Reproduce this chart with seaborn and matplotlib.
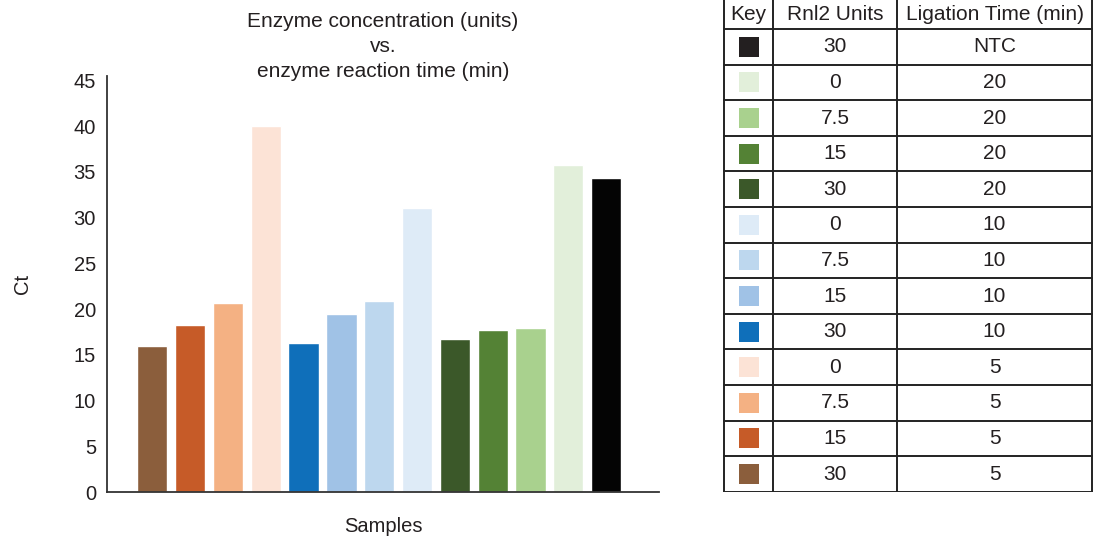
import numpy as np
import pandas as pd
import matplotlib
matplotlib.use("Agg")
import matplotlib.pyplot as plt
import seaborn as sns
from matplotlib.patches import Rectangle

# bars, left to right
samples = ["30U 5min", "15U 5min", "7.5U 5min", "0U 5min",
           "30U 10min", "15U 10min", "7.5U 10min", "0U 10min",
           "30U 20min", "15U 20min", "7.5U 20min", "0U 20min",
           "NTC"]
ct_values = [16.0, 18.3, 20.7, 40.0,
             16.3, 19.5, 20.9, 31.1,
             16.7, 17.7, 17.9, 35.8,
             34.3]
bar_colors = ["#8B5E3C", "#C65B28", "#F4B183", "#FCE3D6",
              "#0F6FBA", "#A0C2E6", "#BDD7EE", "#DEEBF7",
              "#3B5829", "#548235", "#A9D18E", "#E2EFDA",
              "#040404"]

# table (key), top to bottom
units_col = ["30", "0", "7.5", "15", "30", "0", "7.5", "15", "30", "0", "7.5", "15", "30"]
time_col = ["NTC", "20", "20", "20", "20", "10", "10", "10", "10", "5", "5", "5", "5"]
key_colors = ["#231F20"] + bar_colors[:-1][::-1]
headers = ["Key", "Rnl2 Units", "Ligation Time (min)"]

sns.set_style("white")
plt.rcParams['font.family'] = ['Liberation Sans', 'DejaVu Sans']
TXT = "#231F20"

df = pd.DataFrame({"sample": samples, "ct": ct_values})

fig = plt.figure(figsize=(10.95, 5.4), dpi=100)
ax = fig.add_axes([107 / 1095, 48 / 540, 552 / 1095, 416 / 540])
sns.barplot(data=df, x="sample", y="ct", hue="sample", palette=bar_colors,
            width=0.8, legend=False, saturation=1, ax=ax)
ax.set_xlim(-1.2, 13.4)
ax.set_ylim(0, 45.5)
ax.set_yticks(np.arange(0, 46, 5))
ax.set_xticks([])
ax.tick_params(axis="y", length=0, pad=8, labelsize=14.5, labelcolor=TXT)
for s in ["top", "right"]:
    ax.spines[s].set_visible(False)
for s in ["left", "bottom"]:
    ax.spines[s].set_color("#333333")
    ax.spines[s].set_linewidth(1.3)
ax.set_ylabel("Ct", fontsize=14.5, color=TXT)
ax.yaxis.set_label_coords(-0.135, 0.5)
ax.set_xlabel("Samples", fontsize=14.5, color=TXT)
ax.xaxis.set_label_coords(0.5, -0.06)
ax.set_title("Enzyme concentration (units)\nvs.\nenzyme reaction time (min)",
             fontsize=15, color=TXT, pad=-1, linespacing=1.4)

# key table
tx = fig.add_axes([723 / 1095, 48 / 540, 370 / 1095, 492 / 540])
tx.set_xlim(0, 370)
tx.set_ylim(492, 0)
tx.axis("off")
col_edges = [1, 50, 174, 369]
row_h = 35.6
head_h = 29
nrows = len(units_col)
lw = 1.4
for xe in col_edges:
    tx.plot([xe, xe], [0, 492], color="#222222", lw=lw, solid_capstyle="butt")
tx.plot([col_edges[0], col_edges[-1]], [head_h, head_h], color="#222222", lw=lw)
for i in range(nrows):
    yb = head_h + (i + 1) * row_h
    tx.plot([col_edges[0], col_edges[-1]], [yb, yb], color="#222222", lw=lw)

centers = [(col_edges[j] + col_edges[j + 1]) / 2 for j in range(3)]
for j, h in enumerate(headers):
    tx.text(centers[j], head_h / 2, h, ha="center", va="center", fontsize=15, color=TXT)
for i in range(nrows):
    yc = head_h + (i + 0.5) * row_h
    tx.add_patch(Rectangle((centers[0] - 10, yc - 10), 20, 20, color=key_colors[i], lw=0))
    tx.text(centers[1], yc, units_col[i], ha="center", va="center", fontsize=15, color=TXT)
    tx.text(centers[2], yc, time_col[i], ha="center", va="center", fontsize=15, color=TXT)

fig.savefig("out.png", dpi=100)
